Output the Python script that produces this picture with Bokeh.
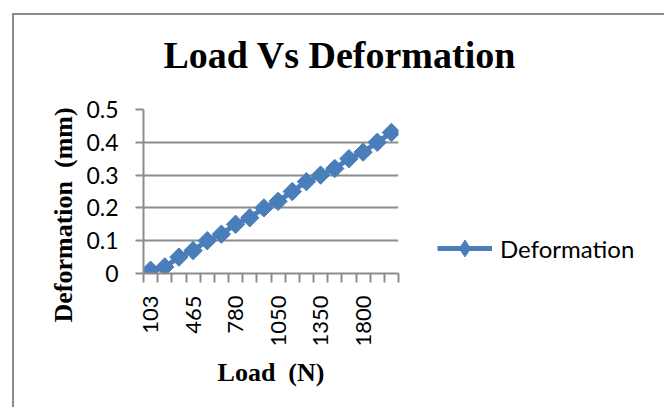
from bokeh.plotting import figure
from bokeh.models import Range1d, FixedTicker, Legend, LegendItem, Title
from bokeh.embed import file_html
from bokeh.resources import INLINE
import math

# ---- data ----
loads = ["103", "220", "340", "465", "570", "680", "780", "870", "960",
         "1050", "1150", "1250", "1350", "1500", "1650", "1800", "1950", "2100"]
deformation = [0.01, 0.02, 0.05, 0.07, 0.10, 0.12, 0.15, 0.17, 0.20,
               0.22, 0.25, 0.28, 0.30, 0.32, 0.35, 0.37, 0.40, 0.43]
shown_every = 3
y_ticks = [0, 0.1, 0.2, 0.3, 0.4, 0.5]
y_tick_labels = ["0", "0.1", "0.2", "0.3", "0.4", "0.5"]
title_text = "Load Vs Deformation"
x_title = "Load \u00a0(N)"
y_title = "Deformation \u00a0(mm)"
series_name = "Deformation"

n = len(loads)
idx = list(range(n))

GRAY = "#8c8c8c"
BLUE = "#4a7ebb"
SANS = "Lato"
SERIF = "Liberation Serif"

p = figure(frame_width=255, frame_height=164, output_backend="svg", toolbar_location=None,
           x_range=Range1d(-0.5, n - 0.5), y_range=Range1d(y_ticks[0], y_ticks[-1]),
           min_border_left=129, min_border_right=260,
           min_border_top=94, min_border_bottom=134)
p.outline_line_color = None
p.styles = {"border-left": "2px solid #8c8c8c", "border-top": "2px solid #8c8c8c",
            "border-right": "2px solid #8c8c8c", "border-bottom": "none",
            "margin-left": "12px", "margin-top": "13px"}

# series
r_line = p.line(idx, deformation, line_color=BLUE, line_width=5)
# diamond-shaped key (lies fully inside the rotated-square markers drawn on top)
r_key = p.scatter(idx, deformation, marker="diamond", size=12,
                  fill_color=BLUE, line_color=BLUE, line_width=1)
r_mark = p.scatter(idx, deformation, marker="square", angle=math.pi / 4, size=13,
                   fill_color=BLUE, line_color=BLUE, line_width=1)

# x axis
p.xaxis.ticker = FixedTicker(ticks=idx[::shown_every],
                             minor_ticks=[i - 0.5 for i in range(n + 1)])
p.xaxis.major_label_overrides = {i: loads[i] for i in idx[::shown_every]}
p.xaxis.major_label_orientation = math.pi / 2
p.xaxis.axis_line_color = GRAY
p.xaxis.axis_line_width = 2
p.xaxis.major_tick_out = 0
p.xaxis.major_tick_in = 0
p.xaxis.minor_tick_out = 9
p.xaxis.minor_tick_in = 0
p.xaxis.minor_tick_line_color = GRAY
p.xaxis.minor_tick_line_width = 2
p.xaxis.major_label_standoff = 13
p.xaxis.major_label_text_font = SANS
p.xaxis.major_label_text_font_size = "22px"
p.xaxis.major_label_text_color = "black"
p.xaxis.axis_label = x_title
p.xaxis.axis_label_text_font = SERIF
p.xaxis.axis_label_text_font_style = "bold"
p.xaxis.axis_label_text_font_size = "26px"
p.xaxis.axis_label_text_color = "black"
p.xaxis.axis_label_standoff = 8

# y axis
p.yaxis.ticker = FixedTicker(ticks=y_ticks)
p.yaxis.major_label_overrides = {t: l for t, l in zip(y_ticks, y_tick_labels)}
p.yaxis.axis_line_color = GRAY
p.yaxis.axis_line_width = 2
p.yaxis.major_tick_out = 8
p.yaxis.major_tick_in = 0
p.yaxis.major_tick_line_color = GRAY
p.yaxis.major_tick_line_width = 2
p.yaxis.minor_tick_line_color = None
p.yaxis.major_label_standoff = 17
p.yaxis.major_label_text_font = SANS
p.yaxis.major_label_text_font_size = "23px"
p.yaxis.major_label_text_color = "black"

# grid
p.xgrid.visible = False
p.ygrid.ticker = FixedTicker(ticks=y_ticks)
p.ygrid.grid_line_color = GRAY
p.ygrid.grid_line_width = 2

# titles (above: spacer first, then main title further out)
p.add_layout(Title(text=" ", text_font_size="1px", standoff=26), "above")
p.add_layout(Title(text=title_text, text_font=SERIF, text_font_style="bold",
                   text_font_size="38px", text_color="black", align="left",
                   offset=20, standoff=10), "above")
p.add_layout(Title(text=y_title, text_font=SERIF, text_font_style="bold",
                   text_font_size="26px", text_color="black", align="left",
                   offset=-49, standoff=11), "left")

# legend
legend = Legend(items=[LegendItem(label=series_name, renderers=[r_line, r_key])],
                location=(39, 4), glyph_width=55, glyph_height=42, label_standoff=8,
                padding=0, margin=0, border_line_color=None, background_fill_alpha=0,
                label_text_font=SANS, label_text_font_size="24px",
                label_text_color="black")
p.add_layout(legend, "right")

open("out.html", "w").write(file_html(p, INLINE))
